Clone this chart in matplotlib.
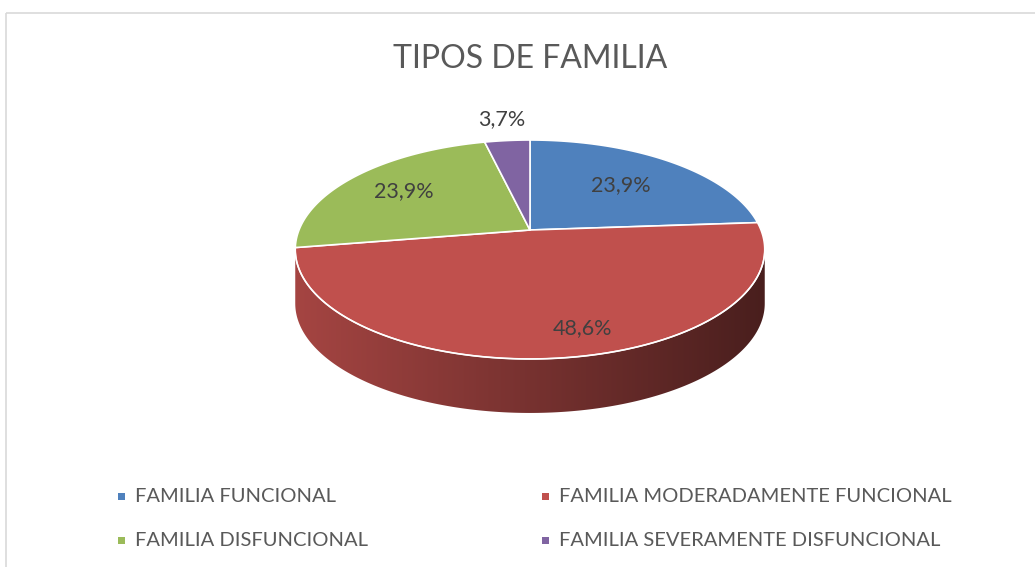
import numpy as np
import matplotlib.pyplot as plt
from matplotlib.patches import Polygon, Rectangle
from matplotlib.colors import to_rgb

# data
labels = ['FAMILIA FUNCIONAL', 'FAMILIA MODERADAMENTE FUNCIONAL',
          'FAMILIA DISFUNCIONAL', 'FAMILIA SEVERAMENTE DISFUNCIONAL']
values = [23.9, 48.6, 23.9, 3.7]
colors = ['#4f81bd', '#c0504d', '#9bbb59', '#8064a2']

# label placement (radius fraction, angle shift in degrees)
label_r = [0.62, 0.82, 0.70, 1.30]
label_dphi = [0, -7, 0, 0]

plt.rcParams['font.family'] = ['Lato', 'DejaVu Sans']

W, H = 1035, 567
fig = plt.figure(figsize=(W / 100, H / 100), dpi=100)
ax = fig.add_axes([0, 0, 1, 1])
ax.set_xlim(0, W)
ax.set_ylim(H, 0)
ax.axis('off')

# fake perspective disk
cx, cy, rx, ry, k, depth = 530, 230, 231, 106, 0.178, 54


def proj(phi_deg, r=1.0, drop=0.0):
    phi = np.radians(phi_deg)
    u = r * np.sin(phi)
    v = -r * np.cos(phi)
    w = 1 / (1 - k * v)
    return cx + rx * u * w, cy + ry * v * w + drop


total = sum(values)
bounds = np.concatenate([[0], np.cumsum(values) / total * 360])

# visible side wall: between the two silhouette angles
sil = np.degrees(np.arccos(-k))
x_left, x_right = cx - rx * 1.02, cx + rx * 1.02
for i, c in enumerate(colors):
    a0, a1 = max(bounds[i], sil), min(bounds[i + 1], 360 - sil)
    if a1 <= a0:
        continue
    arc = np.linspace(a0, a1, 300)
    xs, ys = proj(arc)
    pts = list(zip(xs, ys)) + list(zip(xs[::-1], ys[::-1] + depth))
    wall = Polygon(pts, closed=True, fc='none', ec='none')
    ax.add_patch(wall)
    base = np.array(to_rgb(c))
    t = np.linspace(0, 1, 400)
    f = 0.86 - 0.48 * t
    grad = (base[None, :] * f[:, None])[None, :, :]
    im = ax.imshow(grad, extent=(x_left, x_right, cy + ry * 2 + depth, cy - ry),
                   aspect='auto', interpolation='bilinear', zorder=1)
    im.set_clip_path(wall)
ax.set_xlim(0, W)
ax.set_ylim(H, 0)

# top face
for i, c in enumerate(colors):
    arc = np.linspace(bounds[i], bounds[i + 1], 200)
    xs, ys = proj(arc)
    pts = [(cx, cy)] + list(zip(xs, ys))
    ax.add_patch(Polygon(pts, closed=True, fc=c, ec='white', lw=1.2,
                         joinstyle='round', zorder=2))

# white rim on front edge
arc = np.linspace(sil, 360 - sil, 300)
xs, ys = proj(arc)
ax.plot(xs, ys, color='white', lw=1.0, zorder=3)

# data labels
for i, val in enumerate(values):
    mid = (bounds[i] + bounds[i + 1]) / 2 + label_dphi[i]
    lx, ly = proj(mid, label_r[i])
    ax.text(lx, ly, f'{val:.1f}%'.replace('.', ','), ha='center', va='center',
            fontsize=15.5, color='#404040', zorder=4)

# title
ax.text(530, 59, 'TIPOS DE FAMILIA', ha='center', va='center', fontsize=23, color='#595959')

# legend (two columns, row-wise order)
col_x = [118, 542]
row_y = [496, 540]
for i, (lab, c) in enumerate(zip(labels, colors)):
    x0 = col_x[i % 2]
    y0 = row_y[i // 2]
    ax.add_patch(Rectangle((x0, y0 - 3.5), 7, 7, fc=c, ec='none'))
    ax.text(x0 + 17, y0, lab, ha='left', va='center', fontsize=14.5, color='#595959')

# chart frame
ax.add_patch(Rectangle((6, 13), W, H, fill=False, ec='#d9d9d9', lw=1.2))

fig.savefig('out.png', dpi=100)
